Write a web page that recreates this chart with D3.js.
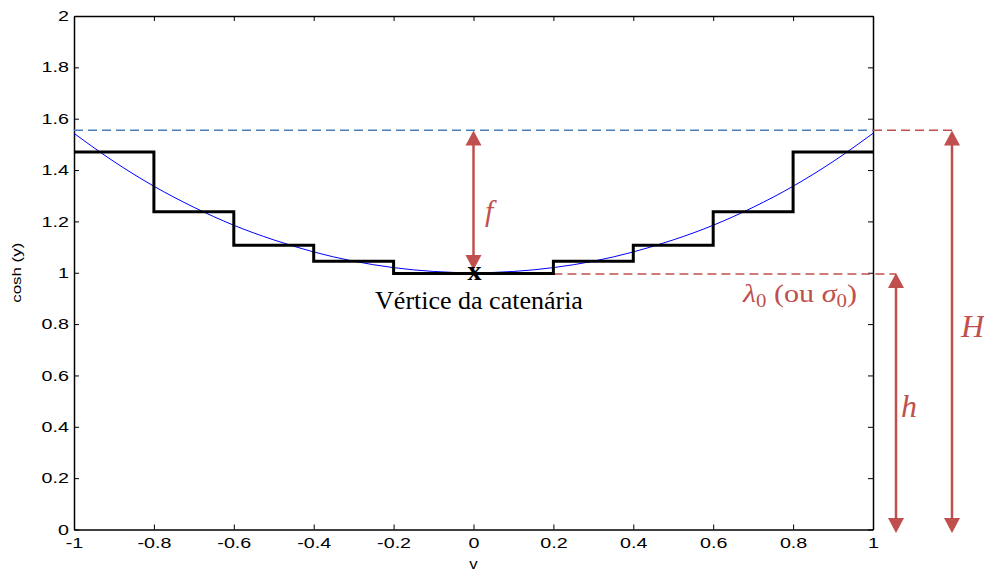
<!DOCTYPE html>
<html><head><meta charset="utf-8">
<script src="https://cdn.jsdelivr.net/npm/d3@7"></script>
<style>body{margin:0;background:#fff}svg{display:block}</style>
</head><body>
<svg id="c" width="984" height="573"></svg>
<script>
// data
const curveX = [-1,-0.9,-0.8,-0.7,-0.6,-0.5,-0.4,-0.3,-0.2,-0.1,0,0.1,0.2,0.3,0.4,0.5,0.6,0.7,0.8,0.9,1];
const curveY = [1.543,1.433,1.337,1.255,1.185,1.128,1.081,1.045,1.020,1.005,1.0,1.005,1.020,1.045,1.081,1.128,1.185,1.255,1.337,1.433,1.543];
const stepEdges = [-1,-0.8,-0.6,-0.4,-0.2,0.2,0.4,0.6,0.8,1];
const stepValues = [1.47,1.238,1.107,1.045,0.997,1.045,1.107,1.238,1.47];
const fTop = 1.555;      // dashed blue / H top
const lambda0 = 0.995;   // vertex level
const xTicks = [-1,-0.8,-0.6,-0.4,-0.2,0,0.2,0.4,0.6,0.8,1];
const yTicks = [0,0.2,0.4,0.6,0.8,1,1.2,1.4,1.6,1.8,2];
const xTickLabels = ["-1","-0.8","-0.6","-0.4","-0.2","0","0.2","0.4","0.6","0.8","1"];
const yTickLabels = ["0","0.2","0.4","0.6","0.8","1","1.2","1.4","1.6","1.8","2"];

const svg = d3.select("#c");
const x = d3.scaleLinear().domain([-1,1]).range([74,873]);
const y = d3.scaleLinear().domain([0,2]).range([529.5,16]);
const red = "#c0504d";
const sx = 1.36;

// axes (MATLAB box style, inward ticks)
const tickFont = "14.5px 'Liberation Sans', Arial, sans-serif";
const gB = svg.append("g").attr("transform",`translate(0,${y(0)})`)
  .call(d3.axisBottom(x).tickValues(xTicks).tickFormat((d,i)=>xTickLabels[i]).tickSizeInner(-5).tickSizeOuter(0).tickPadding(8));
const gT = svg.append("g").attr("transform",`translate(0,${y(2)})`)
  .call(d3.axisTop(x).tickValues(xTicks).tickFormat("").tickSizeInner(-5).tickSizeOuter(0));
const gL = svg.append("g").attr("transform",`translate(${x(-1)},0)`)
  .call(d3.axisLeft(y).tickValues(yTicks).tickFormat((d,i)=>yTickLabels[i]).tickSizeInner(-5).tickSizeOuter(0));
const gR = svg.append("g").attr("transform",`translate(${x(1)},0)`)
  .call(d3.axisRight(y).tickValues(yTicks).tickFormat("").tickSizeInner(-5).tickSizeOuter(0));
[gB,gT,gL,gR].forEach(g=>{
  g.selectAll(".domain").attr("stroke","#000").attr("stroke-width",1.5);
  g.selectAll(".tick line").attr("stroke","#000").attr("stroke-width",1);
  g.selectAll("text").style("font",tickFont).attr("fill","#000");
});
gB.selectAll(".tick text").attr("dy","0.71em").attr("transform",`scale(${sx},1)`);
gL.selectAll(".tick text").attr("x",-5/sx).attr("transform",`scale(${sx},1)`);

svg.append("text").attr("transform",`translate(21,${y(1)}) rotate(-90) scale(1.3,1)`)
  .attr("text-anchor","middle").style("font","13px 'Liberation Sans', Arial, sans-serif").text("cosh (y)");
svg.append("text").attr("transform",`translate(${x(0)},569) scale(1.2,1)`).attr("text-anchor","middle")
  .style("font","14px 'Liberation Sans', Arial, sans-serif").text("v");

// dashed blue line
svg.append("line").attr("x1",x(-1)).attr("x2",x(1)).attr("y1",y(fTop)).attr("y2",y(fTop))
  .attr("stroke","#4a7ebb").attr("stroke-width",1.5).attr("stroke-dasharray","9,5");

// red dashed lines
svg.append("line").attr("x1",x(1)).attr("x2",952).attr("y1",y(fTop)).attr("y2",y(fTop))
  .attr("stroke",red).attr("stroke-width",1.5).attr("stroke-dasharray","9,5");
svg.append("line").attr("x1",x(0.2)).attr("x2",896).attr("y1",y(lambda0)).attr("y2",y(lambda0))
  .attr("stroke",red).attr("stroke-width",1.5).attr("stroke-dasharray","9,5");

// cosh curve
const pts = curveX.map((v,i)=>[v,curveY[i]]);
svg.append("path").datum(pts)
  .attr("d",d3.line().x(d=>x(d[0])).y(d=>y(d[1])).curve(d3.curveMonotoneX))
  .attr("fill","none").attr("stroke","#0000ff").attr("stroke-width",1);

// step function
const stepPts = [];
stepValues.forEach((v,i)=>{ stepPts.push([stepEdges[i],v]); });
stepPts.push([stepEdges[stepEdges.length-1], stepValues[stepValues.length-1]]);
svg.append("path").datum(stepPts)
  .attr("d",d3.line().x(d=>x(d[0])).y(d=>y(d[1])).curve(d3.curveStepAfter))
  .attr("fill","none").attr("stroke","#000").attr("stroke-width",3);

// arrows
function arrow(px, y1, y2, upHead, downHead){
  const hl=15, hw=8;
  svg.append("line").attr("x1",px).attr("x2",px)
    .attr("y1", upHead? y1+hl-2 : y1).attr("y2", downHead? y2-hl+2 : y2)
    .attr("stroke",red).attr("stroke-width",2.5);
  if(upHead) svg.append("path").attr("d",`M${px},${y1} L${px-hw},${y1+hl} L${px+hw},${y1+hl} Z`).attr("fill",red);
  if(downHead) svg.append("path").attr("d",`M${px},${y2} L${px-hw},${y2-hl} L${px+hw},${y2-hl} Z`).attr("fill",red);
}
arrow(x(0), 130.5, 270, true, true);
arrow(896, 273, 533, true, true);
arrow(952, 130.5, 533, true, true);

// labels
svg.append("text").attr("x",485).attr("y",221).attr("fill",red)
  .style("font","italic 30px 'Liberation Serif', serif").text("f");
svg.append("text").attr("x",901).attr("y",417).attr("fill",red)
  .style("font","italic 32px 'Liberation Serif', serif").text("h");
svg.append("text").attr("x",961).attr("y",337).attr("fill",red)
  .style("font","italic 32px 'Liberation Serif', serif").text("H");

const lt = svg.append("text").attr("x",743).attr("y",302).attr("fill",red)
  .attr("textLength",114).attr("lengthAdjust","spacingAndGlyphs")
  .style("font","26px 'Liberation Serif', serif");
lt.append("tspan").style("font-style","italic").text("λ");
lt.append("tspan").attr("dy",5).style("font-size","18px").text("0");
lt.append("tspan").attr("dy",-5).text(" (ou ");
lt.append("tspan").style("font-style","italic").text("σ");
lt.append("tspan").attr("dy",5).style("font-size","18px").text("0");
lt.append("tspan").attr("dy",-5).text(")");

svg.append("text").attr("x",x(0)+1).attr("y",280).attr("text-anchor","middle")
  .style("font","bold 28px 'Liberation Serif', serif").text("x");
svg.append("text").attr("x",479).attr("y",309).attr("text-anchor","middle")
  .style("font","26px 'Liberation Serif', serif").text("Vértice da catenária");
</script>
</body></html>
